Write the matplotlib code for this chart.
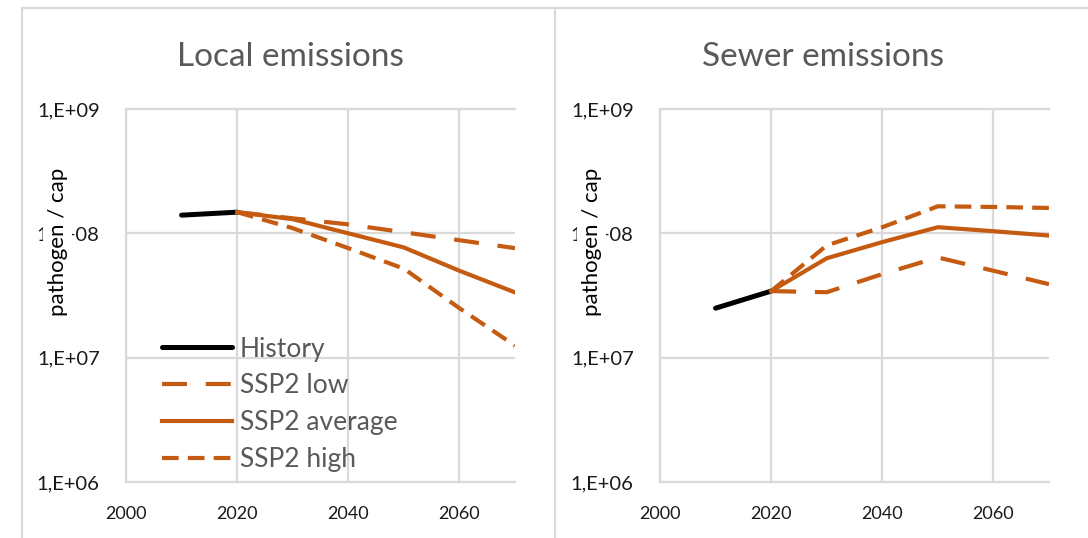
# Local vs sewer pathogen emissions per capita, Excel-like styling
import matplotlib
matplotlib.use('Agg')
import matplotlib.pyplot as plt
from matplotlib.lines import Line2D
import numpy as np

plt.rcParams.update({'font.family': ['Lato', 'DejaVu Sans']})

# data
hist_years = [2010, 2020]
ssp_years = [2020, 2030, 2040, 2050, 2060, 2070]

local_hist = [1.40e8, 1.48e8]
local_low = [1.48e8, 1.32e8, 1.18e8, 1.02e8, 8.8e7, 7.6e7]
local_avg = [1.48e8, 1.30e8, 1.0e8, 7.7e7, 5.0e7, 3.35e7]
local_high = [1.48e8, 1.10e8, 7.6e7, 5.2e7, 2.5e7, 1.25e7]

sewer_hist = [2.5e7, 3.43e7]
sewer_low = [3.43e7, 3.36e7, 4.7e7, 6.4e7, 5.0e7, 3.9e7]
sewer_avg = [3.43e7, 6.3e7, 8.5e7, 1.12e8, 1.04e8, 9.6e7]
sewer_high = [3.43e7, 8.0e7, 1.12e8, 1.65e8, 1.63e8, 1.6e8]

titles = ['Local emissions', 'Sewer emissions']
xticks = [2000, 2020, 2040, 2060]
yticks = [1e6, 1e7, 1e8, 1e9]
ytick_labels = ['1,E+06', '1,E+07', '1,E+08', '1,E+09']

orange = '#C55A11'
grid_col = '#D9D9D9'
text_gray = '#595959'

fig = plt.figure(figsize=(10.88, 5.38), dpi=100)

ax1 = fig.add_axes([126/1088, 1-482/538, 389/1088, 373/538])
ax2 = fig.add_axes([660/1088, 1-482/538, 389/1088, 373/538])

panels = [(ax1, local_hist, local_low, local_avg, local_high),
          (ax2, sewer_hist, sewer_low, sewer_avg, sewer_high)]

for ax, hist, low, avg, high in panels:
    ax.plot(hist_years, hist, color='black', lw=3.6, solid_capstyle='round', label='History')
    ax.plot(ssp_years, low, color=orange, lw=3.0, dashes=(6, 4.5), label='SSP2 low')
    ax.plot(ssp_years, avg, color=orange, lw=3.0, label='SSP2 average')
    ax.plot(ssp_years, high, color=orange, lw=3.0, dashes=(4, 2.2), label='SSP2 high')

    ax.set_yscale('log')
    ax.set_xlim(2000, 2070)
    ax.set_ylim(1e6, 1e9)
    ax.set_xticks(xticks)
    ax.set_yticks(yticks)
    ax.set_yticklabels(ytick_labels)
    ax.minorticks_off()
    ax.tick_params(length=0, colors='#1a1a1a')
    ax.tick_params(axis='x', pad=17, labelsize=13)
    ax.tick_params(axis='y', pad=19, labelsize=14.5)
    ax.grid(True, color=grid_col, lw=1.6)
    ax.set_axisbelow(True)
    for side in ['left', 'bottom', 'top']:
        ax.spines[side].set_color(grid_col)
        ax.spines[side].set_linewidth(1.6)
    ax.spines['right'].set_visible(False)

    # the label box hides the front of the 1,E+08 tick label, as in the original
    ax.set_ylabel('pathogen / cap', fontsize=16, color='black',
                  bbox=dict(facecolor='white', edgecolor='none', boxstyle='square,pad=0.2'))
    ax.yaxis.set_label_coords(-0.150, 0.643)

ax1.legend(loc='upper left', bbox_to_anchor=(0.0925, 0.39), frameon=False,
           fontsize=19, labelcolor=text_gray, handlelength=2.65, handletextpad=0.3,
           labelspacing=0.45, borderpad=0, borderaxespad=0)

fig.text(290/1088, 1-57/538, titles[0], ha='center', va='center', fontsize=24, color=text_gray)
fig.text(823/1088, 1-57/538, titles[1], ha='center', va='center', fontsize=24, color=text_gray)

# chart area frames
frame = dict(color=grid_col, lw=1.5, transform=fig.transFigure)
fig.add_artist(Line2D([22/1088, 22/1088], [0, 1-8/538], **frame))
fig.add_artist(Line2D([22/1088, 1], [1-8/538, 1-8/538], **frame))
fig.add_artist(Line2D([555/1088, 555/1088], [0, 1-8/538], **frame))

plt.savefig('out.png', dpi=100)
